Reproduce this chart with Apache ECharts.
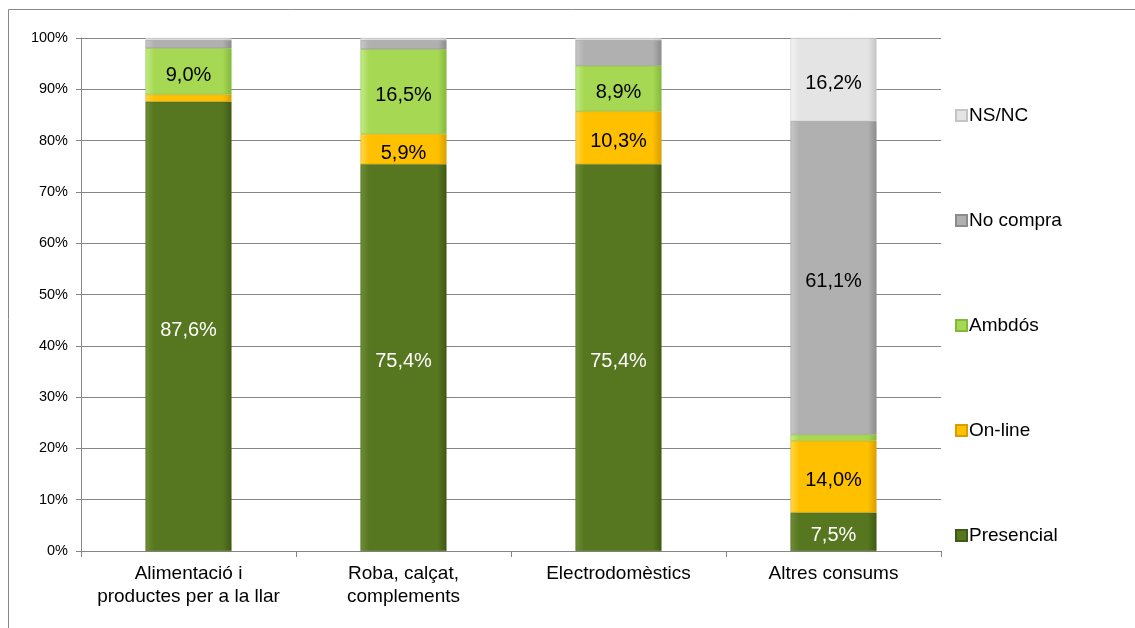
<!DOCTYPE html>
<html>
<head>
<meta charset="utf-8">
<script src="https://cdn.jsdelivr.net/npm/echarts@6/dist/echarts.min.js"></script>
<style>html,body{margin:0;padding:0;background:#fff}#c{width:1135px;height:628px}</style>
</head>
<body>
<div id="c"></div>
<script>
var categories = ['Alimentació i\nproductes per a la llar', 'Roba, calçat,\ncomplements', 'Electrodomèstics', 'Altres consums'];
var presencial = [87.6, 75.4, 75.4, 7.5];
var online = [1.4, 5.9, 10.3, 14.0];
var ambdos = [9.0, 16.5, 8.9, 1.2];
var noCompra = [1.6, 1.8, 5.0, 61.1];
var nsnc = [0.4, 0.4, 0.4, 16.2];
var yTicks = [0, 10, 20, 30, 40, 50, 60, 70, 80, 90, 100];
var shownLabels = {
  'Presencial': [true, true, true, true],
  'On-line': [false, true, true, true],
  'Ambdós': [true, true, true, false],
  'No compra': [false, false, false, true],
  'NS/NC': [false, false, false, true]
};

var FONT = 'Liberation Sans, Arial, sans-serif';
function grad(light, mid, dark) {
  return new echarts.graphic.LinearGradient(0, 0, 1, 0, [
    {offset: 0, color: light},
    {offset: 0.1, color: mid},
    {offset: 0.9, color: mid},
    {offset: 1, color: dark}
  ]);
}
function fmt(p) {
  if (!shownLabels[p.seriesName][p.dataIndex]) return '';
  return p.value.toFixed(1).replace('.', ',') + '%';
}
function mk(name, data, colors, labelColor) {
  return {
    name: name, type: 'bar', stack: 'all', data: data, barWidth: '40%',
    itemStyle: {color: grad(colors[0], colors[1], colors[2]), borderColor: colors[2], borderWidth: 0.5},
    label: {show: true, position: 'inside', formatter: fmt, color: labelColor,
      fontFamily: FONT, fontSize: 20, offset: [0, 4]},
    emphasis: {disabled: true}
  };
}
var chart = echarts.init(document.getElementById('c'), null, {renderer: 'canvas'});
chart.setOption({
  animation: false,
  backgroundColor: '#fff',
  graphic: [{type: 'rect', shape: {x: 8.5, y: 9.5, width: 1140, height: 640}, style: {fill: 'none', stroke: '#888', lineWidth: 1}}],
  grid: {left: 81, right: 194, top: 38, bottom: 77},
  legend: {
    orient: 'vertical', left: 950, top: 101, itemGap: 86, itemWidth: 11, itemHeight: 11,
    icon: 'rect',
    data: ['NS/NC', 'No compra', 'Ambdós', 'On-line', 'Presencial'],
    textStyle: {fontFamily: FONT, fontSize: 19, color: '#000', padding: [0, 0, 0, -3]}
  },
  xAxis: {
    type: 'category', data: categories,
    axisLine: {lineStyle: {color: '#868686', width: 1}},
    axisTick: {show: true, alignWithLabel: false, length: 6, lineStyle: {color: '#868686'}},
    axisLabel: {fontFamily: FONT, fontSize: 19, color: '#000', lineHeight: 23, margin: 11, interval: 0}
  },
  yAxis: {
    type: 'value', min: 0, max: 100, interval: 10,
    axisLine: {show: true, lineStyle: {color: '#868686'}},
    axisTick: {show: true, length: 5, lineStyle: {color: '#868686'}},
    splitLine: {lineStyle: {color: '#868686', width: 1}},
    axisLabel: {fontFamily: FONT, fontSize: 14.5, color: '#000', margin: 13,
      formatter: function (v) { return yTicks.indexOf(v) >= 0 ? v + '%' : ''; }}
  },
  series: [
    mk('Presencial', presencial, ['#6f8f36', '#56761f', '#3f5a14'], '#fff'),
    mk('On-line', online, ['#ffd84a', '#ffc000', '#d89e00'], '#000'),
    mk('Ambdós', ambdos, ['#c4ec86', '#a6d854', '#84b83a'], '#000'),
    mk('No compra', noCompra, ['#c8c8c8', '#b0b0b0', '#8c8c8c'], '#000'),
    mk('NS/NC', nsnc, ['#f4f4f4', '#e4e4e4', '#c4c4c4'], '#000')
  ]
});
</script>
</body>
</html>
